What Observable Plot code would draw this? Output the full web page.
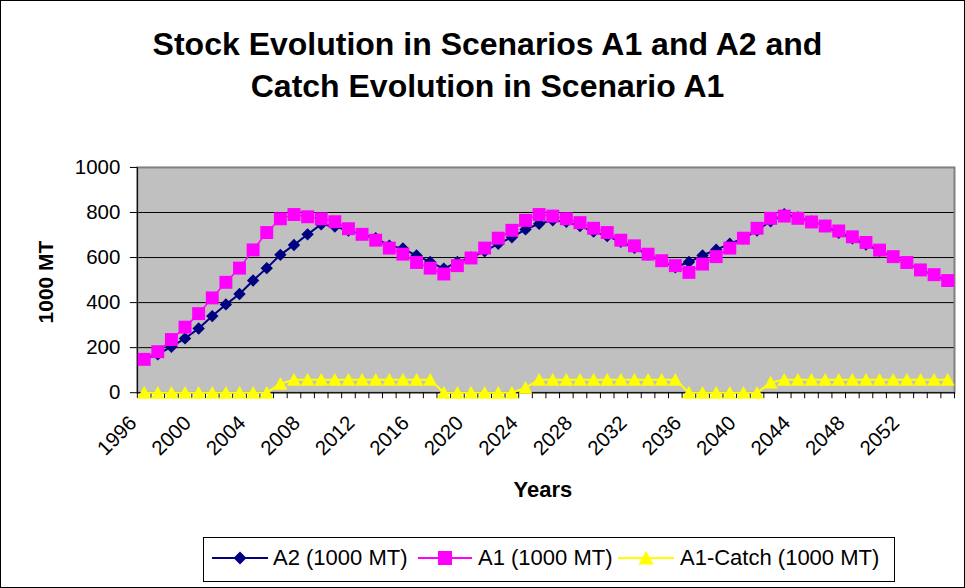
<!DOCTYPE html>
<html>
<head>
<meta charset="utf-8">
<script src="https://cdn.jsdelivr.net/npm/d3@7"></script>
<script src="https://cdn.jsdelivr.net/npm/@observablehq/plot@0.6"></script>
<style>
  body { margin: 0; background: #fff; font-family: "Liberation Sans", Arial, sans-serif; }
  #wrap { position: relative; width: 965px; height: 588px; box-sizing: border-box; border: 1px solid #000; overflow: hidden; background: #fff; }
  #title { position: absolute; left: 0; top: 22px; width: 100%; box-sizing: border-box; padding-left: 10px;
           text-align: center; font-weight: bold; font-size: 32px; line-height: 42px; color: #000; }
  #chart { position: absolute; left: -1px; top: 109px; }
  #legend { position: absolute; left: 202px; top: 536px; width: 692px; height: 45px; box-sizing: border-box; border: 1px solid #000; background: #fff; }
  .sw { position: absolute; top: 10px; }
  .lt { position: absolute; top: 8.5px; font-size: 22px; line-height: 22px; white-space: nowrap; color: #000; }
</style>
</head>
<body>
<div id="wrap">
  <div id="title">Stock Evolution in Scenarios A1 and A2 and<br>Catch Evolution in Scenario A1</div>
  <div id="chart"></div>
  <div id="legend">
    <svg class="sw" style="left:8px" width="56" height="20"><line x1="0" y1="10" x2="56" y2="10" stroke="#000080" stroke-width="2"/><path d="M28,3.5L34.5,10L28,16.5L21.5,10Z" fill="#000080"/></svg>
    <span class="lt" style="left:69px">A2 (1000 MT)</span>
    <svg class="sw" style="left:214px" width="56" height="20"><line x1="0" y1="10" x2="54" y2="10" stroke="#ff00ff" stroke-width="2"/><rect x="20" y="3" width="14" height="14" fill="#ff00ff"/></svg>
    <span class="lt" style="left:274px">A1 (1000 MT)</span>
    <svg class="sw" style="left:414px" width="58" height="20"><line x1="0" y1="10" x2="56" y2="10" stroke="#ffff00" stroke-width="2"/><path d="M28,3L35.5,16.5L20.5,16.5Z" fill="#ffff00"/></svg>
    <span class="lt" style="left:476px">A1-Catch (1000 MT)</span>
  </div>
</div>
<script>
// ---- data ----
const years = [1996,1997,1998,1999,2000,2001,2002,2003,2004,2005,
               2006,2007,2008,2009,2010,2011,2012,2013,2014,2015,
               2016,2017,2018,2019,2020,2021,2022,2023,2024,2025,
               2026,2027,2028,2029,2030,2031,2032,2033,2034,2035,
               2036,2037,2038,2039,2040,2041,2042,2043,2044,2045,
               2046,2047,2048,2049,2050,2051,2052,2053,2054,2055];
const a2 = [150,170,204,241,285,340,392,438,498,553,
            612,656,703,748,738,720,705,686,653,640,
            609,580,551,580,600,628,661,690,725,750,
            765,759,740,715,695,670,643,613,584,557,
            580,609,635,661,685,720,761,792,778,760,
            740,710,685,658,630,602,576,545,522,496];
const a1 = [148,182,236,291,351,421,490,553,634,711,
            772,791,781,772,759,728,703,677,642,615,
            578,553,527,564,598,642,686,721,765,791,
            784,772,755,730,711,677,652,615,586,564,
            534,571,604,642,686,730,774,784,774,758,
            740,718,692,667,633,604,578,545,524,498];
const a1Catch = [0,0,0,0,0,0,0,0,0,0,
                 40,58,58,58,58,58,58,58,58,58,
                 58,58,0,0,0,0,0,0,22,58,
                 58,58,58,58,58,58,58,58,58,58,
                 0,0,0,0,0,0,45,58,58,58,
                 58,58,58,58,58,58,58,58,58,58];
const yearLabels = [1996,2000,2004,2008,2012,2016,2020,2024,2028,2032,2036,2040,2044,2048,2052];
const yTicks = [0,200,400,600,800,1000];
const gridValues = [200,400,600,800];

const rowsA2 = years.map((yr, i) => ({year: yr, value: a2[i]}));
const rowsA1 = years.map((yr, i) => ({year: yr, value: a1[i]}));
const rowsC = years.map((yr, i) => ({year: yr, value: a1Catch[i]}));
const xMin = years[0] - 0.5, xMax = years[years.length - 1] + 0.5;
const boundaries = years.map(y => y - 0.5).concat([xMax]);

// Excel-like marker shapes
const diamond = {draw(ctx, size) { const h = Math.sqrt(size / 2); ctx.moveTo(0, -h); ctx.lineTo(h, 0); ctx.lineTo(0, h); ctx.lineTo(-h, 0); ctx.closePath(); }};
const triangle = {draw(ctx, size) { const s = Math.sqrt(size); ctx.moveTo(0, -s * 0.5); ctx.lineTo(s * 0.52, s * 0.45); ctx.lineTo(-s * 0.52, s * 0.45); ctx.closePath(); }};
const sq = {draw(ctx, size) { const s = Math.sqrt(size) / 2; ctx.rect(-s, -s, 2 * s, 2 * s); }};

const chart = Plot.plot({
  width: 965,
  height: 410,
  marginLeft: 137,
  marginRight: 10,
  marginTop: 57,
  marginBottom: 127.5,
  style: {background: "transparent", fontFamily: "'Liberation Sans', Arial, sans-serif", color: "#000", overflow: "visible"},
  x: {type: "linear", domain: [xMin, xMax]},
  y: {domain: [0, 1000]},
  marks: [
    Plot.frame({fill: "#c0c0c0"}),
    Plot.ruleY(gridValues, {stroke: "#000", strokeWidth: 1}),
    Plot.frame({stroke: "#808080", strokeWidth: 2}),
    Plot.ruleX([xMin], {stroke: "#000", strokeWidth: 1}),
    Plot.ruleY([0], {stroke: "#000", strokeWidth: 1}),
    Plot.axisY(yTicks, {tickSize: 7, tickPadding: 10, fontSize: 20.5, label: null, tickFormat: d => String(d)}),
    Plot.axisX(boundaries, {tickSize: 6, text: null, label: null}),
    Plot.axisX(yearLabels, {tickSize: 0, tickPadding: 27, tickRotate: -45, dx: -11, fontSize: 20.5, label: null, tickFormat: d => String(d)}),
    Plot.line(rowsA2, {x: "year", y: "value", stroke: "#000080", strokeWidth: 2}),
    Plot.dot(rowsA2, {x: "year", y: "value", symbol: diamond, r: 4.95, fill: "#000080", stroke: "none"}),
    Plot.line(rowsA1, {x: "year", y: "value", stroke: "#ff00ff", strokeWidth: 1.5}),
    Plot.dot(rowsA1, {x: "year", y: "value", symbol: sq, r: 7.3, fill: "#ff00ff", stroke: "none"}),
    Plot.line(rowsC, {x: "year", y: "value", stroke: "#ffff00", strokeWidth: 2}),
    Plot.dot(rowsC, {x: "year", y: "value", symbol: triangle, r: 7.6, fill: "#ffff00", stroke: "none"}),
    Plot.text(["1000 MT"], {text: d => d, frameAnchor: "left", textAnchor: "middle", dx: -91.5, dy: 2, rotate: -90, fontSize: 21, fontWeight: "bold"}),
    Plot.text(["Years"], {text: d => d, frameAnchor: "bottom", textAnchor: "middle", dx: -3, dy: 104, fontSize: 22, fontWeight: "bold"})
  ]
});
document.getElementById("chart").appendChild(chart);
</script>
</body>
</html>
